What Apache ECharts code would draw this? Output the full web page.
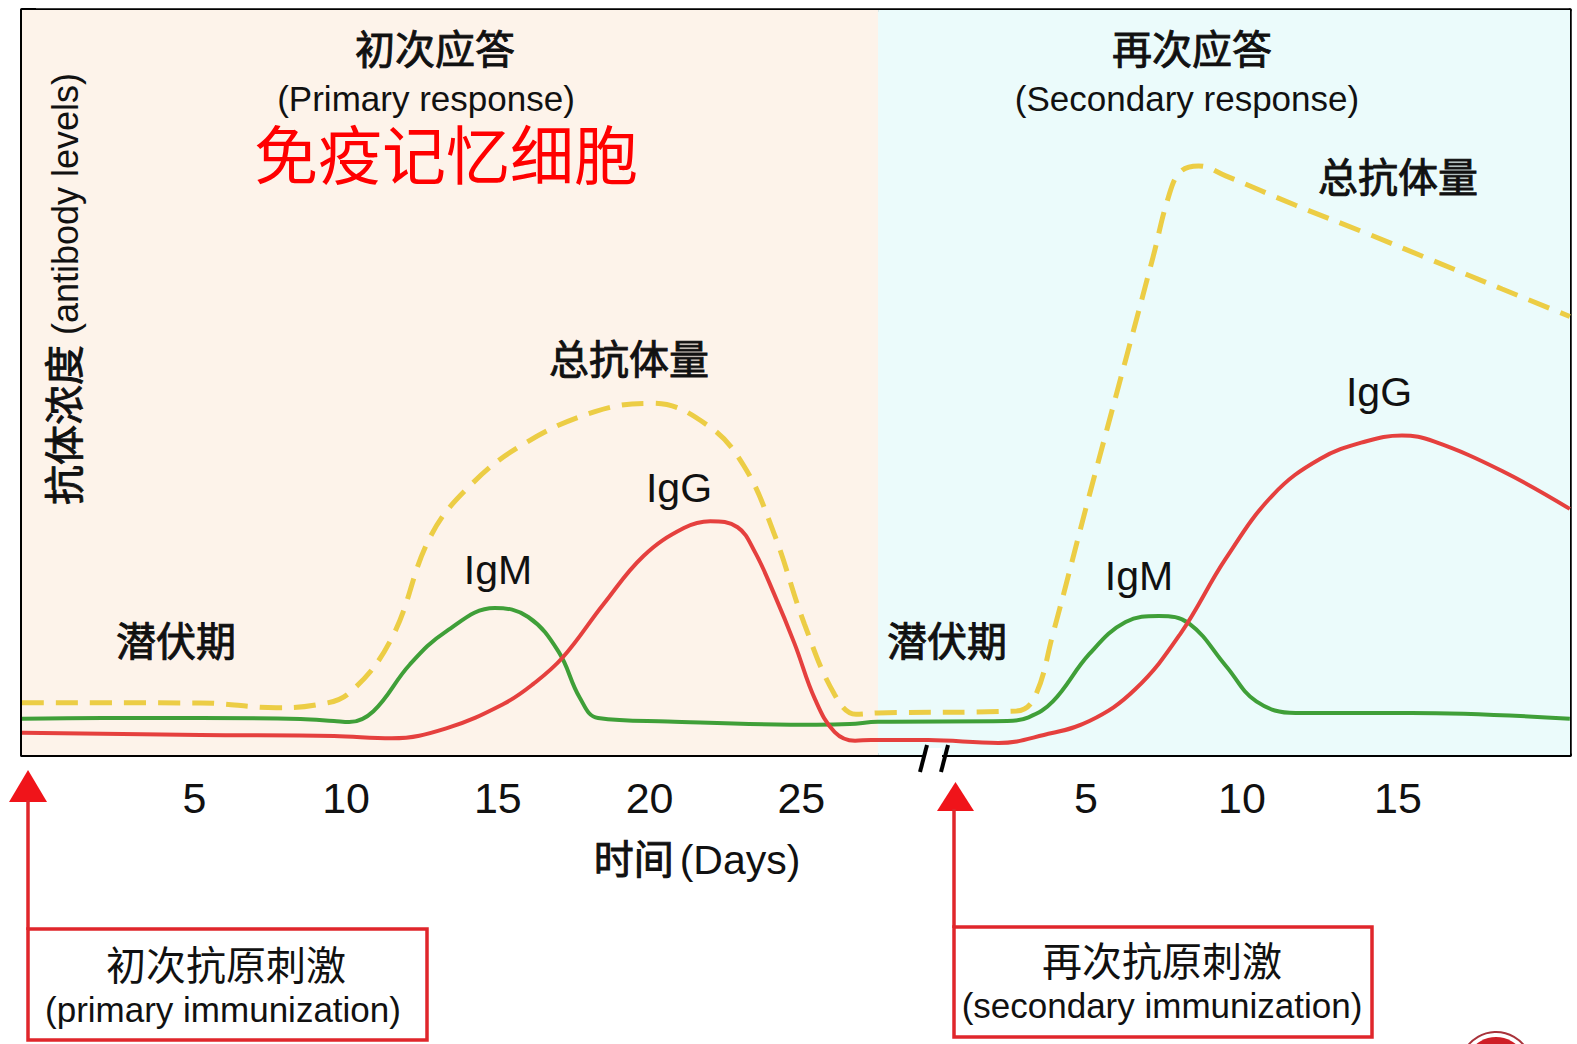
<!DOCTYPE html>
<html>
<head>
<meta charset="utf-8">
<script src="https://cdn.jsdelivr.net/npm/echarts@6/dist/echarts.min.js"></script>
<style>
  html, body { margin: 0; padding: 0; background: #fff; }
  #main { width: 1577px; height: 1044px; }
</style>
</head>
<body>
<div id="main"></div>
<script>
// shared x axis is in primary days; the secondary phase sits after the axis break
// and its day spacing is a little wider in the original figure
const SECOND_START = 29.24;
const SECOND_STRETCH = 1.028;
const X_MIN = -0.68;
const X_MAX = 50.33;
const PHASE_SPLIT = 27.53;

const primaryTicks = [5, 10, 15, 20, 25];
const secondaryTicks = [5, 10, 15];

// [day, antibody level]
const igmPrimary = [[-0.68, 0.24], [2, 0.245], [5.2, 0.245], [8.5, 0.238], [9.6, 0.225], [10.1, 0.218], [10.9, 0.29],
  [12.1, 0.6], [13.3, 0.82], [14.9, 0.975], [16.0, 0.915], [17.0, 0.685], [17.7, 0.38], [18.3, 0.245],
  [20.6, 0.222], [25.5, 0.2], [26.6, 0.205]];
const igmSecondary = [[-1.67, 0.22], [2.48, 0.225], [3.16, 0.25], [3.94, 0.355], [5.11, 0.67], [6.27, 0.882],
  [7.34, 0.922], [8.32, 0.87], [9.48, 0.592], [10.46, 0.355], [11.72, 0.279], [15.42, 0.279], [20.51, 0.24]];

const iggPrimary = [[-0.68, 0.148], [5.2, 0.133], [9.6, 0.126], [11.5, 0.111], [13.3, 0.177], [15.2, 0.34],
  [16.16, 0.47], [17.15, 0.65], [18.48, 1.0], [19.8, 1.32], [21.13, 1.505], [22.0, 1.55], [22.9, 1.51],
  [23.46, 1.35], [24.1, 1.07], [24.78, 0.737], [25.45, 0.37], [26.1, 0.152], [26.77, 0.095], [27.3, 0.1]];
const iggSecondary = [[-1.67, 0.1], [-0.05, 0.099], [2.19, 0.08], [3.65, 0.133], [5.11, 0.225], [6.57, 0.434],
  [8.02, 0.802], [9.48, 1.302], [10.99, 1.724], [12.5, 1.963], [13.96, 2.079], [15.13, 2.119], [16.15, 2.079],
  [18.34, 1.883], [20.51, 1.632]];

const totalPrimary = [[-0.68, 0.347], [5.2, 0.345], [7.7, 0.314], [9.0, 0.332], [10.1, 0.411], [11.5, 0.774],
  [12.75, 1.437], [14.0, 1.769], [15.8, 2.056], [18.2, 2.277], [20.1, 2.332], [21.9, 2.188], [23.1, 1.92],
  [24.1, 1.47], [25.1, 0.87], [26.1, 0.4], [26.8, 0.27]];
const totalSecondary = [[-1.67, 0.279], [2.77, 0.292], [3.35, 0.381], [3.94, 0.802], [5.11, 1.724], [6.27, 2.619],
  [7.15, 3.302], [7.64, 3.697], [8.02, 3.866], [8.61, 3.906], [9.48, 3.84], [11.72, 3.645], [13.96, 3.462],
  [16.15, 3.276], [18.34, 3.09], [20.51, 2.908]];

const FONT = '"Liberation Sans", "Noto Sans CJK SC", sans-serif';
const INK = '#111';

function secondaryToAxis(d) {
  return SECOND_START + d * SECOND_STRETCH;
}

function joinPhases(first, second) {
  return first.concat(second.map(p => [secondaryToAxis(p[0]), p[1]]));
}

function tickLabel(v) {
  if (v > PHASE_SPLIT) {
    return String(Math.round((v - SECOND_START) / SECOND_STRETCH));
  }
  return String(Math.round(v));
}

// medium-weight look: regular glyphs with a thin outline
function label(text, x, y, size, opts) {
  opts = opts || {};
  const color = opts.color || INK;
  return {
    type: 'text',
    x: x,
    y: y,
    z: 10,
    style: {
      text: text,
      fill: color,
      stroke: opts.heavy ? color : null,
      lineWidth: opts.heavy ? 0.9 : 0,
      font: size + 'px ' + FONT,
      align: 'center',
      verticalAlign: 'middle'
    }
  };
}

const tickValues = primaryTicks.concat(secondaryTicks.map(secondaryToAxis));

const chart = echarts.init(document.getElementById('main'), null, {renderer: 'svg'});

const red = '#e0262b';

let option = {
  animation: false,
  grid: {left: 22, right: 7, top: 10, bottom: 289},
  xAxis: [
    {
      type: 'value',
      min: X_MIN,
      max: X_MAX,
      axisLine: {onZero: false, lineStyle: {color: '#000', width: 4}},
      axisTick: {inside: true, length: 13, customValues: tickValues, lineStyle: {color: '#000', width: 3.5}},
      axisLabel: {
        customValues: tickValues,
        formatter: tickLabel,
        margin: 21,
        color: INK,
        fontSize: 43,
        fontFamily: FONT
      },
      splitLine: {show: false}
    },
    {
      type: 'value',
      position: 'top',
      min: X_MIN,
      max: X_MAX,
      axisLine: {onZero: false, lineStyle: {color: '#000', width: 3.5}},
      axisTick: {show: false},
      axisLabel: {show: false},
      splitLine: {show: false}
    }
  ],
  yAxis: [
    {
      type: 'value',
      min: 0,
      max: 4.94,
      interval: 1,
      axisLine: {show: true, onZero: false, lineStyle: {color: '#000', width: 4}},
      axisTick: {show: true, inside: true, length: 14, lineStyle: {color: '#000', width: 4}},
      axisLabel: {show: false},
      splitLine: {show: false}
    },
    {
      type: 'value',
      position: 'right',
      min: 0,
      max: 4.94,
      axisLine: {show: true, onZero: false, lineStyle: {color: '#000', width: 3.5}},
      axisTick: {show: false},
      axisLabel: {show: false},
      splitLine: {show: false}
    }
  ],
  series: [
    {
      name: 'bg',
      type: 'line',
      z: 1,
      silent: true,
      data: [[X_MIN, 0]],
      showSymbol: false,
      lineStyle: {opacity: 0},
      markArea: {
        silent: true,
        data: [
          [{xAxis: X_MIN, itemStyle: {color: '#fdf3ea'}}, {xAxis: PHASE_SPLIT}],
          [{xAxis: PHASE_SPLIT, itemStyle: {color: '#ebfbfb'}}, {xAxis: X_MAX}]
        ]
      }
    },
    {
      name: '总抗体量',
      type: 'line',
      z: 3,
      smooth: 0.4,
      showSymbol: false,
      data: joinPhases(totalPrimary, totalSecondary),
      lineStyle: {color: '#eccd45', width: 5, type: [22, 12], cap: 'butt'}
    },
    {
      name: 'IgM',
      type: 'line',
      z: 4,
      smooth: 0.4,
      showSymbol: false,
      data: joinPhases(igmPrimary, igmSecondary),
      lineStyle: {color: '#3f9f38', width: 4}
    },
    {
      name: 'IgG',
      type: 'line',
      z: 5,
      smooth: 0.4,
      showSymbol: false,
      data: joinPhases(iggPrimary, iggSecondary),
      lineStyle: {color: '#e5403e', width: 4}
    }
  ],
  graphic: [
    label('初次应答', 435, 50, 40, {heavy: true}),
    label('(Primary response)', 426, 98, 35),
    label('免疫记忆细胞', 446, 157, 64, {color: '#ff0000'}),
    label('再次应答', 1192, 50, 40, {heavy: true}),
    label('(Secondary response)', 1187, 98, 35),
    label('总抗体量', 629, 360, 40, {heavy: true}),
    label('总抗体量', 1398, 178, 40, {heavy: true}),
    label('IgG', 679, 488, 41),
    label('IgG', 1379, 392, 41),
    label('IgM', 498, 570, 41),
    label('IgM', 1139, 576, 41),
    label('潜伏期', 176, 642, 40, {heavy: true}),
    label('潜伏期', 947, 642, 40, {heavy: true}),
    {
      type: 'text',
      x: 65,
      y: 289,
      rotation: Math.PI / 2,
      z: 10,
      style: {
        text: '{a|抗体浓度}{b| (antibody levels)}',
        align: 'center',
        verticalAlign: 'middle',
        rich: {
          a: {font: '40px ' + FONT, fill: INK, stroke: INK, lineWidth: 0.9},
          b: {font: '36px ' + FONT, fill: INK}
        }
      }
    },
    {
      type: 'text',
      x: 697,
      y: 860,
      z: 10,
      style: {
        text: '{a|时间}{b|(Days)}',
        align: 'center',
        verticalAlign: 'middle',
        rich: {
          a: {font: '40px ' + FONT, fill: INK, stroke: INK, lineWidth: 0.9},
          b: {font: '41px ' + FONT, fill: INK, padding: [0, 0, 0, 6]}
        }
      }
    },
    // axis break
    {type: 'rect', shape: {x: 926, y: 748, width: 16, height: 12}, style: {fill: '#fff'}, z: 20},
    {type: 'line', shape: {x1: 927, y1: 745, x2: 920, y2: 772}, style: {stroke: '#000', lineWidth: 4}, z: 21},
    {type: 'line', shape: {x1: 948, y1: 745, x2: 941, y2: 772}, style: {stroke: '#000', lineWidth: 4}, z: 21},
    // primary immunization arrow and box
    {type: 'polygon', shape: {points: [[9, 802], [47, 802], [28, 770]]}, style: {fill: '#f0141a'}, z: 10},
    {type: 'line', shape: {x1: 28, y1: 800, x2: 28, y2: 930}, style: {stroke: red, lineWidth: 3.5}, z: 10},
    {type: 'rect', shape: {x: 28, y: 929, width: 399, height: 111}, style: {fill: 'none', stroke: red, lineWidth: 3.5}, z: 10},
    label('初次抗原刺激', 226, 966, 40),
    label('(primary immunization)', 223, 1009, 35),
    // secondary immunization arrow and box
    {type: 'polygon', shape: {points: [[937, 811], [974, 811], [955.5, 782]]}, style: {fill: '#f0141a'}, z: 10},
    {type: 'line', shape: {x1: 954, y1: 809, x2: 954, y2: 928}, style: {stroke: red, lineWidth: 3.5}, z: 10},
    {type: 'rect', shape: {x: 954, y: 927, width: 418, height: 110}, style: {fill: 'none', stroke: red, lineWidth: 3.5}, z: 10},
    label('再次抗原刺激', 1162, 962, 40),
    label('(secondary immunization)', 1162, 1005, 35),
    // corner logo, mostly cut off
    {type: 'circle', shape: {cx: 1496, cy: 1068, r: 36}, style: {fill: '#fff', stroke: '#a8323a', lineWidth: 2}, z: 10},
    {type: 'circle', shape: {cx: 1496, cy: 1068, r: 31}, style: {fill: '#cf1f27'}, z: 11}
  ]
};

chart.setOption(option);
</script>
</body>
</html>
